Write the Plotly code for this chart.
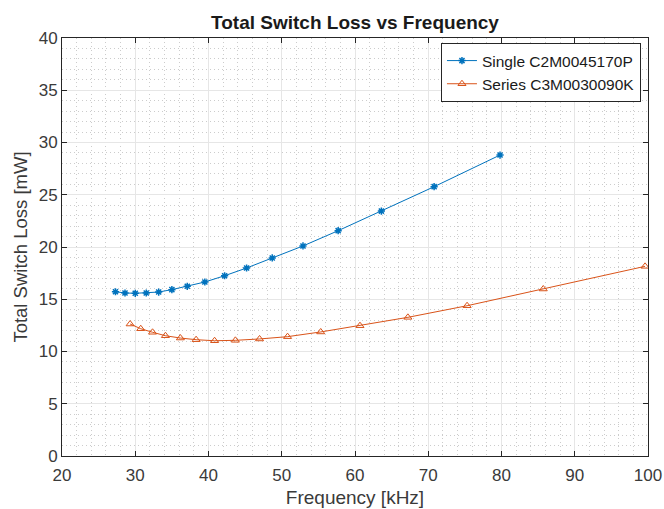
import plotly.graph_objects as go

# Data
single_freq = [27.3, 28.6, 30.0, 31.5, 33.2, 35.0, 37.1, 39.5, 42.2, 45.2, 48.7, 52.9, 57.7, 63.6, 70.8, 79.8]
single_loss = [15.72, 15.6, 15.57, 15.6, 15.69, 15.92, 16.24, 16.65, 17.25, 17.99, 18.95, 20.1, 21.56, 23.44, 25.77, 28.8]

series_freq = [29.3, 30.75, 32.36, 34.12, 36.16, 38.31, 40.83, 43.67, 46.97, 50.79, 55.32, 60.68, 67.22, 75.3, 85.7, 99.6]
series_loss = [12.63, 12.18, 11.84, 11.51, 11.29, 11.13, 11.03, 11.07, 11.2, 11.42, 11.87, 12.47, 13.27, 14.38, 15.98, 18.15]

x_ticks = [20, 30, 40, 50, 60, 70, 80, 90, 100]
y_ticks = [0, 5, 10, 15, 20, 25, 30, 35, 40]

FONT = "Liberation Sans"
AX = "#262626"
TXT = "#3a3a3a"

fig = go.Figure()
fig.add_trace(go.Scatter(
    x=single_freq, y=single_loss, mode="lines+markers",
    name="Single C2M0045170P",
    line=dict(color="#0072BD", width=1),
    marker=dict(symbol="asterisk-open", size=6, color="#0072BD",
                line=dict(color="#0072BD", width=1.5)),
))
fig.add_trace(go.Scatter(
    x=series_freq, y=series_loss, mode="lines+markers",
    name="Series C3M0030090K",
    line=dict(color="#D95319", width=1),
    marker=dict(symbol="triangle-up-open", size=7, color="#D95319",
                line=dict(color="#D95319", width=1)),
))

axis_common = dict(
    showline=True, linecolor=AX, linewidth=1, mirror="ticks",
    ticks="inside", ticklen=5, tickcolor=AX,
    showgrid=True, gridcolor="#e6e6e6", gridwidth=1,
    zeroline=False, automargin=False,
    tickfont=dict(family=FONT, size=17, color=TXT),
)

fig.update_xaxes(
    range=[20, 100], tickvals=x_ticks, ticktext=[str(v) for v in x_ticks],
    ticklabelstandoff=4,
    title=dict(text="Frequency [kHz]", font=dict(family=FONT, size=19, color=TXT), standoff=6),
    minor=dict(dtick=2, tick0=20, showgrid=True, gridcolor="#cccccc", griddash="1px,3px", gridwidth=1, ticks=""),
    **axis_common,
)
fig.update_yaxes(
    range=[0, 40], tickvals=y_ticks, ticktext=[str(v) for v in y_ticks],
    title=dict(text="Total Switch Loss [mW]", font=dict(family=FONT, size=18.5, color=TXT), standoff=6),
    minor=dict(dtick=1, tick0=0, showgrid=True, gridcolor="#cccccc", griddash="1px,3px", gridwidth=1, ticks=""),
    **axis_common,
)

fig.update_layout(
    width=664, height=509,
    margin=dict(l=62, r=16, t=38, b=53),
    paper_bgcolor="white", plot_bgcolor="white",
    title=dict(text="<b>Total Switch Loss vs Frequency</b>", x=0.5, xref="paper",
               y=1 - 22 / 509, yref="container", yanchor="middle", xanchor="center",
               font=dict(family=FONT, size=19, color="#1a1a1a")),
    legend=dict(x=0.988, y=0.988, xanchor="right", yanchor="top",
                bgcolor="white", bordercolor="#262626", borderwidth=1,
                font=dict(family=FONT, size=15.5, color="#1a1a1a"),
                tracegroupgap=0, itemwidth=30),
    showlegend=True,
)

fig.write_html("out.html", config={"displayModeBar": False},
               post_script="document.body.style.margin='0px';")
